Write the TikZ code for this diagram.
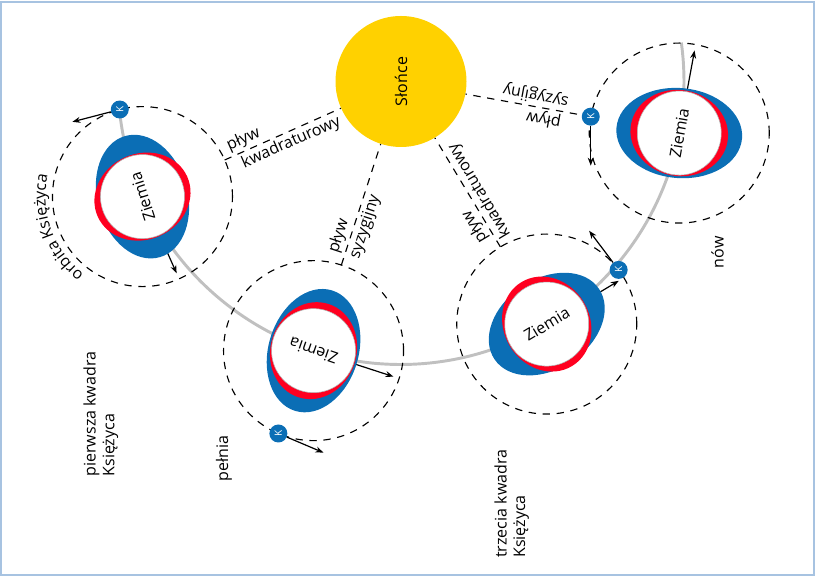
\documentclass[tikz,border=0pt]{standalone}
\usepackage{fontspec}
\setmainfont{Open Sans}
\usepackage{graphicx}
\usetikzlibrary{arrows.meta, decorations.text}
\definecolor{sunyellow}{RGB}{255,209,0}
\definecolor{tideblue}{RGB}{11,110,181}
\definecolor{tidered}{RGB}{255,0,32}
\definecolor{orbitgray}{RGB}{192,192,192}
\definecolor{framebl}{RGB}{167,195,225}

\begin{document}
\begin{tikzpicture}[x=0.75pt, y=0.75pt, every node/.style={font=\fontsize{12}{14}\selectfont}, sun/.style={circle, fill=sunyellow, inner sep=0pt, minimum size=98.25pt}, earth/.style={circle, fill=white, draw=gray!60, line width=0.4pt, inner sep=0pt, minimum size=63pt}, moon/.style={circle, fill=tideblue, text=white, inner sep=0pt, minimum size=13.5pt, font=\fontsize{7.5}{8}\selectfont}, dashline/.style={line width=0.85pt, dash pattern=on 5.5pt off 5pt}, motion/.style={line width=0.9pt, -{Stealth[length=6pt, width=4.5pt]}}, sunorbit/.style={orbitgray, line width=2.2pt}, phase/.style={rotate=90, anchor=west, align=left, inner sep=0pt}]
\useasboundingbox (0,0) rectangle (815,577);
\draw[framebl, line width=1.5pt] (1,2) rectangle (814,575);

\node[sun] (sun) at (401,495.5) {\rotatebox{90}{Słońce}};
\foreach \n/\t in {1/204, 2/252, 3/301, 4/349.5}
  \path (sun) ++(\t:283) coordinate (p\n);
\draw[sunorbit] (sun) ++(185.7:283) arc[start angle=185.7, end angle=367.9, radius=283];

\foreach \n in {1,...,4}
  \draw[dashline] (p\n) circle[radius=90];
\path[decorate, decoration={text along path, text align=center, text={|\fontsize{12}{14}\selectfont|orbita Księżyca}}] (p1) ++(240:97) arc[start angle=240, end angle=160, radius=97];

\foreach \n/\t/\a/\s/\r/\w in {1/204/24/.04/.09/kwadraturowy, 2/252/72/.05/.06/syzygijny, 3/301/121/.08/.02/kwadraturowy, 4/349.5/169.5/.2/.17/syzygijny}
  \draw[dashline] (sun) ++(\t:193) coordinate (t\n) -- (sun.\t)
    node[pos=\s, anchor=south west, rotate=\a, inner sep=2pt] {pływ}
    node[pos=\r, anchor=north west, rotate=\a, inner sep=2pt] {\w};

\foreach \n/\t in {1/204, 2/252, 3/301, 4/349.5} {
  \path (p\n) ++({\t+90}:84) coordinate (w\n);
  \draw[motion] (p\n) -- (w\n);
}

\foreach \n/\t/\b in {1/204/106, 2/252/73, 3/301/34, 4/349.5/175} {
  \fill[tideblue] (p\n) circle[x radius=63, y radius=45, rotate=\b];
  \fill[tidered] (p\n) circle[x radius=49, y radius=43, rotate=\t];
}
\node[earth, rotate=108] (e1) at (p1) {Ziemia};
\node[earth, rotate=161] (e2) at (p2) {Ziemia};
\node[earth, rotate=31] (e3) at (p3) {Ziemia};
\node[earth, rotate=80] (e4) at (p4) {Ziemia};

\foreach \n/\m/\v in {1/104.6/194.6, 2/247/337, 3/37/127, 4/169.5/270} {
  \path (p\n) ++(\m:90) node[moon] (k\n) {\rotatebox{90}{K}};
  \path (k\n) ++(\v:49) coordinate (v\n);
  \draw[motion] (k\n) -- (v\n);
}

\node[phase] (first) at (100.8,100.3) {pierwsza kwadra\\Księżyca};
\node[phase] (full) at (224,95.3) {pełnia};
\node[phase] (third) at (511.7,19) {trzecia kwadra\\Księżyca};
\node[phase] (new) at (717.5,308.7) {nów};
\end{tikzpicture}
\end{document}
